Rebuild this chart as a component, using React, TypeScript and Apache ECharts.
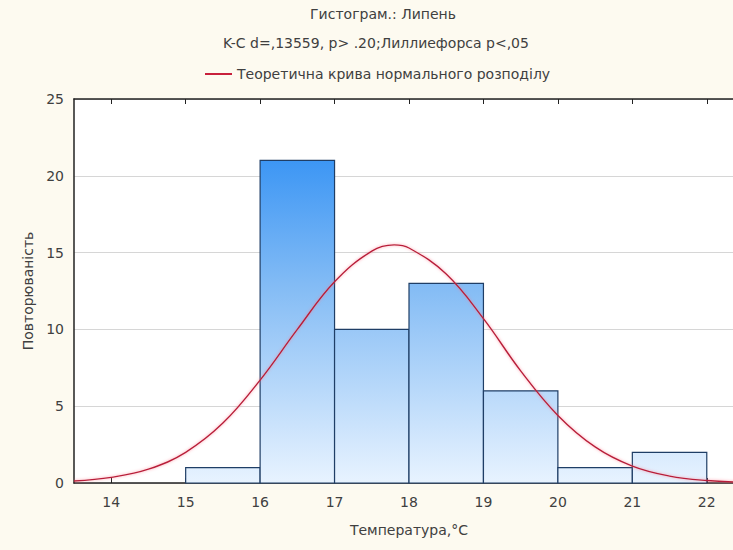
import React, { useEffect, useRef } from "react";
import * as echarts from "echarts";

const titleMain = "Гистограм.: Липень";
const titleSub = "K-C d=,13559, p> .20;Лиллиефорса p<,05";
const curveName = "Теоретична крива нормального розподілу";
const xAxisName = "Температура,°C";
const yAxisName = "Повторюваність";

const xTicks = [14, 15, 16, 17, 18, 19, 20, 21, 22];
const binStarts = [14, 15, 16, 17, 18, 19, 20, 21];
const binEnds = [15, 16, 17, 18, 19, 20, 21, 22];
const counts = [0, 1, 21, 10, 13, 6, 1, 2];

const curveX = [13.5, 14, 14.5, 15, 15.5, 16, 16.5, 17, 17.5, 17.8, 18, 18.5, 19, 19.5, 20, 20.5, 21, 21.5, 22, 22.5];
const curveY = [0.13, 0.37, 0.9, 2.0, 3.9, 6.7, 10.0, 13.1, 15.1, 15.5, 15.3, 13.6, 10.7, 7.3, 4.4, 2.35, 1.1, 0.45, 0.16, 0.05];

const FONT = "'DejaVu Sans', Verdana, sans-serif";
const FS = 14;
const TXT = "#404040";

export default function App() {
  const ref = useRef<HTMLDivElement>(null);
  useEffect(() => {
    if (!ref.current) return;
    const chart = echarts.init(ref.current, null, { renderer: "svg" });
    const barData = binStarts.map((s, i) => [s, binEnds[i], counts[i]]);
    const curveData = curveX.map((x, i) => [x, curveY[i]]);
    const gridTop = 99;
    const gridH = 384;
    chart.setOption({
      animation: false,
      backgroundColor: "#FDFAF0",
      textStyle: { fontFamily: FONT },
      graphic: [
        {
          type: "text",
          x: 383,
          y: 14,
          style: { text: titleMain, font: `${FS}px ${FONT}`, fill: TXT, textAlign: "center", textVerticalAlign: "middle" },
        },
        {
          type: "text",
          x: 376,
          y: 43,
          style: { text: titleSub, font: `${FS}px ${FONT}`, fill: TXT, textAlign: "center", textVerticalAlign: "middle" },
        },
      ],
      legend: {
        left: 200,
        top: 62,
        itemWidth: 27,
        itemHeight: 2,
        itemGap: 8,
        icon: "rect",
        textStyle: { fontSize: FS, color: TXT, fontFamily: FONT },
        data: [curveName],
      },
      grid: {
        left: 74,
        top: gridTop,
        width: 670,
        height: gridH,
        show: true,
        backgroundColor: "#ffffff",
        borderWidth: 0,
        outerBoundsMode: "none",
      },
      xAxis: [
        {
          type: "value",
          min: 13.5,
          max: 22.5,
          position: "bottom",
          name: xAxisName,
          nameLocation: "middle",
          nameGap: 40,
          nameTextStyle: { fontSize: FS, color: TXT, fontFamily: FONT },
          axisLine: { show: true, lineStyle: { color: "#222", width: 1.5 } },
          axisTick: { show: true, inside: true, length: 5, customValues: xTicks, lineStyle: { color: "#222" } },
          axisLabel: {
            color: TXT,
            fontSize: FS,
            margin: 12,
            fontFamily: FONT,
            customValues: xTicks,
          },
          splitLine: { show: false },
        },
        {
          type: "value",
          min: 13.5,
          max: 22.5,
          position: "top",
          axisLine: { show: true, lineStyle: { color: "#222", width: 1.5 } },
          axisTick: { show: true, inside: true, length: 5, customValues: xTicks, lineStyle: { color: "#222" } },
          axisLabel: { show: false },
          splitLine: { show: false },
        },
      ],
      yAxis: {
        type: "value",
        min: 0,
        max: 25,
        interval: 5,
        name: yAxisName,
        nameLocation: "middle",
        nameGap: 38,
        nameTextStyle: { fontSize: FS, color: TXT, fontFamily: FONT },
        axisLine: { show: true, lineStyle: { color: "#222", width: 1.5 } },
        axisTick: { show: false },
        axisLabel: { color: TXT, fontSize: FS, margin: 10, fontFamily: FONT },
        splitLine: { show: true, lineStyle: { color: "#D6D6D6", width: 1 } },
      },
      series: [
        {
          type: "custom",
          name: "bins",
          xAxisIndex: 0,
          data: barData,
          encode: { x: [0, 1], y: 2 },
          renderItem: (params: any, api: any) => {
            const v = api.value(2);
            if (!v) return null;
            const p0 = api.coord([api.value(0), v]);
            const p1 = api.coord([api.value(1), 0]);
            return {
              type: "rect",
              shape: { x: p0[0], y: p0[1], width: p1[0] - p0[0], height: p1[1] - p0[1] },
              style: {
                fill: new echarts.graphic.LinearGradient(
                  0, gridTop, 0, gridTop + gridH,
                  [
                    { offset: 0, color: "#1A84F4" },
                    { offset: 0.5, color: "#86BDF5" },
                    { offset: 1, color: "#E8F3FF" },
                  ],
                  true
                ),
                stroke: "#1F3E66",
                lineWidth: 1.2,
              },
            };
          },
          z: 2,
        },
        {
          type: "line",
          name: curveName,
          xAxisIndex: 0,
          data: curveData,
          smooth: 0.4,
          showSymbol: false,
          symbol: "none",
          itemStyle: { color: "#C8203C" },
          lineStyle: {
            color: "#B81E3A",
            width: 1.4,
            shadowColor: "rgba(255,110,130,0.7)",
            shadowBlur: 3,
          },
          z: 3,
        },
      ],
    });
    return () => chart.dispose();
  }, []);
  return (
    <div
      ref={ref}
      style={{ position: "fixed", left: 0, top: 0, width: 760, height: 550 }}
    />
  );
}
